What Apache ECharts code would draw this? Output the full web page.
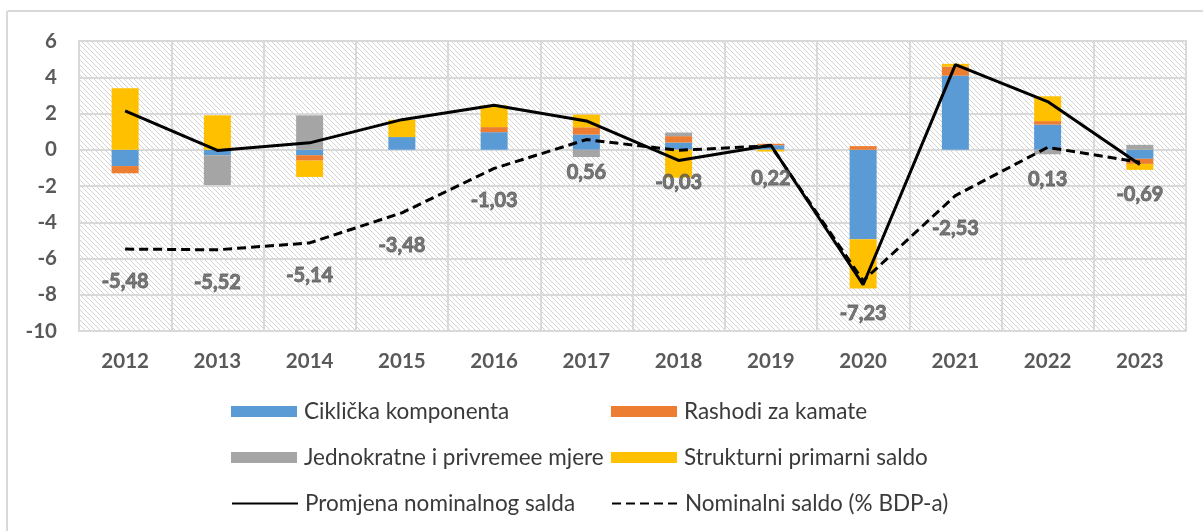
<!DOCTYPE html>
<html>
<head>
<meta charset="utf-8">
<script src="https://cdn.jsdelivr.net/npm/echarts@6/dist/echarts.min.js"></script>
<style>
html,body{margin:0;padding:0;background:#fff;}
#main{width:1203px;height:531px;}
</style>
</head>
<body>
<div id="main"></div>
<script>
const categories = ['2012','2013','2014','2015','2016','2017','2018','2019','2020','2021','2022','2023'];
const ciklicka   = [-0.9, -0.3, -0.3, 0.7, 0.97, 0.84, 0.4, 0.25, -4.94, 4.09, 1.39, -0.5];
const kamate     = [-0.4, 0, -0.3, 0, 0.28, 0.4, 0.35, 0.08, 0.2, 0.5, 0.19, -0.28];
const jednokratne= [0, -1.65, 1.9, 0, 0, -0.4, 0.2, 0, 0, 0, -0.25, 0.27];
const strukturni = [3.4, 1.9, -0.9, 0.95, 1.19, 0.7, -1.54, -0.1, -2.72, 0.15, 1.37, -0.33];
const promjena   = [2.15, -0.04, 0.38, 1.66, 2.45, 1.59, -0.59, 0.25, -7.45, 4.70, 2.66, -0.82];
const nominalni  = [-5.48, -5.52, -5.14, -3.48, -1.03, 0.56, -0.03, 0.22, -7.23, -2.53, 0.13, -0.69];
const yTicks = { min: -10, max: 6, interval: 2 };

const names = ['Ciklička komponenta','Rashodi za kamate','Jednokratne i privremee mjere','Strukturni primarni saldo','Promjena nominalnog salda','Nominalni saldo (% BDP-a)'];

// hatch pattern
const pc = document.createElement('canvas');
pc.width = 5; pc.height = 5;
const ctx = pc.getContext('2d');
ctx.fillStyle = '#ffffff'; ctx.fillRect(0,0,5,5);
ctx.strokeStyle = '#d3d3d3'; ctx.lineWidth = 1;
ctx.beginPath(); ctx.moveTo(-1,-1); ctx.lineTo(6,6); ctx.moveTo(-1,4); ctx.lineTo(1,6); ctx.moveTo(4,-1); ctx.lineTo(6,1); ctx.stroke();

const FONT = 'Lato, "Open Sans", sans-serif';
const chart = echarts.init(document.getElementById('main'), null, {renderer:'canvas'});

function bar(name, data, color){
  return { name, type:'bar', stack:'a', data, barWidth:27, itemStyle:{color}, emphasis:{disabled:true} };
}
function legend(name, left, top, isLine){
  const l = { data:[name], left, top, padding:0, itemWidth:66, itemHeight:11, itemGap:0,
    textStyle:{ fontFamily:FONT, fontSize:22.5, color:'#3a3a3a', padding:[0,0,0,2] }, selectedMode:false };
  if (isLine) { l.itemStyle = { opacity:0 }; } else { l.icon = 'rect'; }
  return l;
}

chart.setOption({
  animation:false,
  graphic:[{ type:'rect', shape:{x:7, y:11, width:1220, height:560, r:2}, style:{fill:'none', stroke:'#d9d9d9', lineWidth:2}, silent:true }],
  grid:{ left:79, right:17, top:41, bottom:200, show:true, backgroundColor:{image:pc, repeat:'repeat'}, borderColor:'#d9d9d9', borderWidth:2 },
  legend:[
    legend(names[0], 231, 400),
    legend(names[1], 611, 400),
    legend(names[2], 231, 446),
    legend(names[3], 611, 446),
    legend(names[4], 231, 492, true),
    legend(names[5], 611, 492, true)
  ],
  xAxis:{ type:'category', data:categories, boundaryGap:true,
    axisLine:{show:false}, axisTick:{show:false},
    splitLine:{show:true, lineStyle:{color:'#d9d9d9', width:2}},
    axisLabel:{ fontFamily:FONT, fontWeight:'bold', fontSize:20.5, color:'#595959', margin:20 } },
  yAxis:{ type:'value', min:yTicks.min, max:yTicks.max, interval:yTicks.interval,
    axisLine:{show:false}, axisTick:{show:false},
    splitLine:{show:true, lineStyle:{color:'#d9d9d9', width:2}},
    axisLabel:{ fontFamily:FONT, fontWeight:'bold', fontSize:20.5, color:'#595959', margin:22 } },
  series:[
    bar(names[0], ciklicka, '#5B9BD5'),
    bar(names[1], kamate, '#ED7D31'),
    bar(names[2], jednokratne, '#A5A5A5'),
    bar(names[3], strukturni, '#FFC000'),
    { name:names[4], type:'line', data:promjena, symbol:'none', lineStyle:{color:'#000', width:3}, itemStyle:{color:'#000'}, z:5 },
    { name:names[5], type:'line', data:nominalni, symbol:'none', lineStyle:{color:'#000', width:3, type:[9,5]}, itemStyle:{color:'#000'}, z:4 },
    { name:'labels', type:'scatter', data:nominalni, symbolSize:1, itemStyle:{color:'rgba(0,0,0,0)'}, z:6, silent:true,
      label:{ show:true, position:'bottom', distance:22, fontFamily:FONT, fontWeight:'bold', fontSize:20, color:'#595959',
        textBorderColor:'#595959', textBorderWidth:0.9,
        formatter:(p)=> p.value.toFixed(2).replace('.',',') } }
  ]
});
</script>
</body>
</html>
